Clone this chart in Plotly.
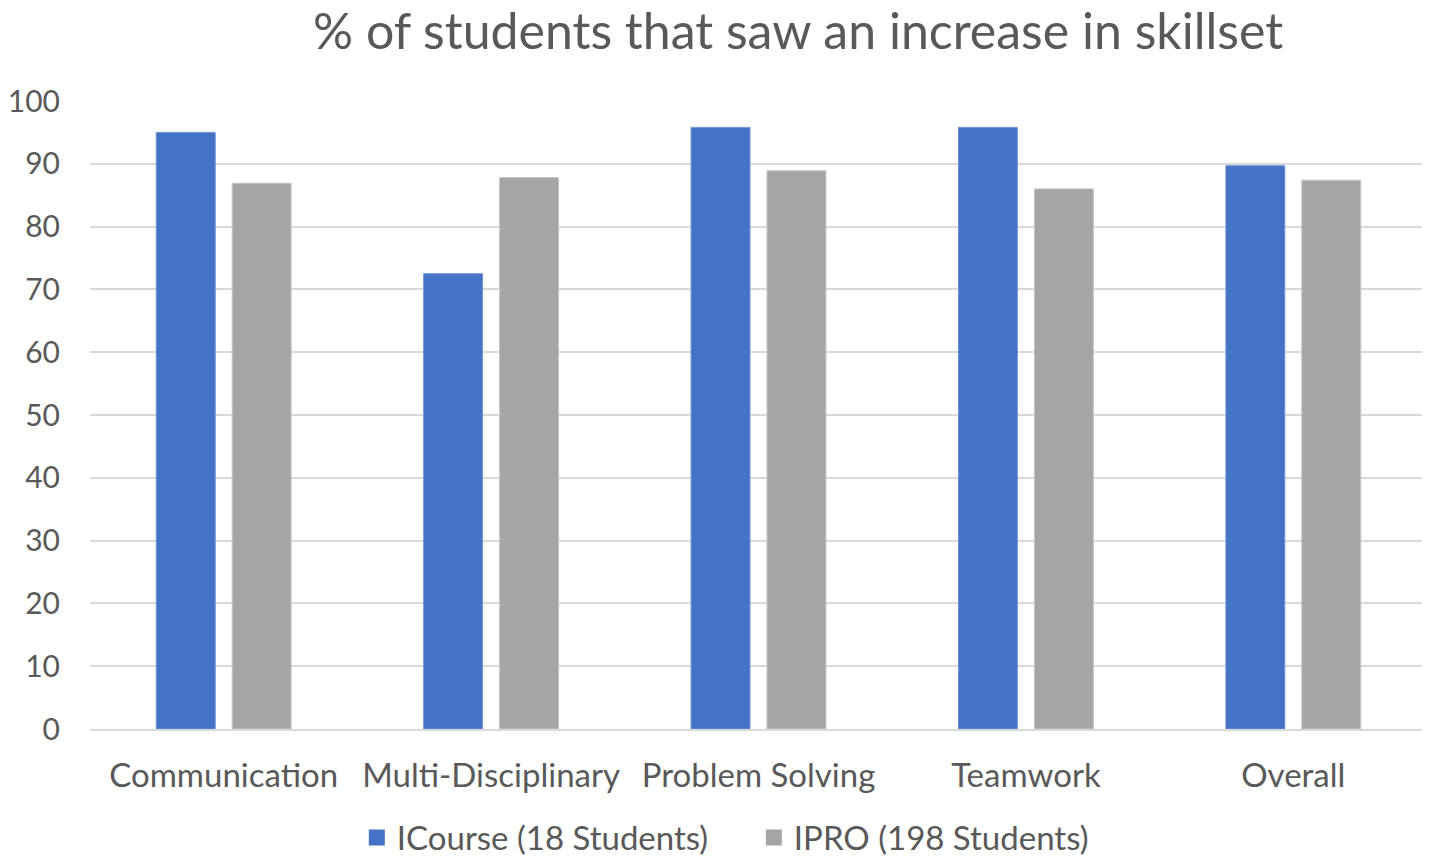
import plotly.graph_objects as go

categories = ["Communication", "Multi-Disciplinary", "Problem Solving", "Teamwork", "Overall"]
icourse = [95.0, 72.5, 95.8, 95.8, 89.7]
ipro = [86.9, 87.8, 88.9, 86.0, 87.4]
series_names = ["ICourse (18 Students)", "IPRO (198 Students)"]
series_colors = ["#4472C4", "#A5A5A5"]
title_text = "% of students that saw an increase in skillset"

FONT = "Lato"
GREY = "#595959"

# the page body adds an 8px margin, so the figure is drawn 8px smaller
W, H = 1422, 849

fig = go.Figure()
fig.add_trace(go.Bar(x=categories, y=icourse, name=series_names[0], showlegend=False,
                     marker=dict(color=series_colors[0], line=dict(color="#6f93d6", width=1))))
fig.add_trace(go.Bar(x=categories, y=ipro, name=series_names[1], showlegend=False,
                     marker=dict(color=series_colors[1], line=dict(color="#c4c4c4", width=1))))
# legend entries with square swatches
for name, col in zip(series_names, series_colors):
    fig.add_trace(go.Scatter(x=[None], y=[None], mode="markers", name=name,
                             marker=dict(symbol="square", size=19, color=col)))

fig.update_layout(
    width=W, height=H,
    margin=dict(l=82, r=3, t=93, b=128, autoexpand=False),
    paper_bgcolor="white", plot_bgcolor="white",
    barmode="group", bargap=0.432, bargroupgap=0.224,
    font=dict(family=FONT, color=GREY, size=32),
    title=dict(text=title_text, x=0.5556, xanchor="center", y=0.972, yanchor="middle",
               font=dict(family=FONT, size=50, color=GREY)),
    legend=dict(orientation="h", x=0.4965, xanchor="center", y=-0.173, yanchor="middle",
                font=dict(family=FONT, size=33, color=GREY), itemsizing="trace",
                itemwidth=30, entrywidth=352, traceorder="normal"),
    showlegend=True,
)
fig.update_yaxes(range=[0, 100], dtick=10, showgrid=True, gridcolor="#d9d9d9", gridwidth=2,
                 zeroline=False, showline=False, ticks="", ticklabelstandoff=29, automargin=False,
                 tickfont=dict(family=FONT, size=30, color=GREY))
fig.update_xaxes(showline=True, linecolor="#d9d9d9", linewidth=2, ticks="", automargin=False,
                 ticklabelstandoff=16, tickfont=dict(family=FONT, size=33, color=GREY))

fig.write_html("out.html")
